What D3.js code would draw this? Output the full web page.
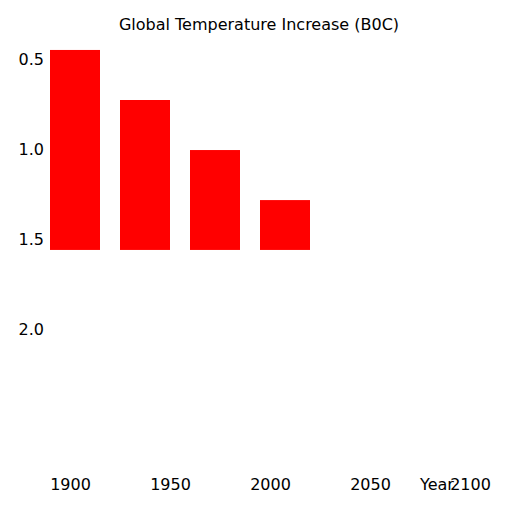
<!DOCTYPE html>
<html>
<head>
<meta charset="utf-8">
<script src="https://d3js.org/d3.v7.min.js"></script>
<style>
  html, body { margin: 0; padding: 0; background: #fff; }
  text { font-family: "DejaVu Sans", sans-serif; }
</style>
</head>
<body>
<script>
// Data
const categories = ["1900", "1950", "2000", "2050"];
const values = [0.447, 0.725, 1.003, 1.281];
const baselineValue = 1.558;
const yTicks = [0.5, 1.0, 1.5, 2.0];
const xTicks = [1900, 1950, 2000, 2050, 2100];
const titleText = "Global Temperature Increase (B0C)";
const xLabel = "Year";

const W = 512, H = 512;
const FS = 16;
const svg = d3.select("body").append("svg")
  .attr("width", W).attr("height", H);

const y = d3.scaleLinear().domain([0.5, 2.0]).range([59.5, 329.5]);
const xBand = d3.scaleBand().domain(categories).range([50, 310])
  .paddingInner(2 / 7).paddingOuter(0);
const xLin = d3.scaleLinear().domain([1900, 2100]).range([70, 470]);

// Bars
svg.append("g").selectAll("rect")
  .data(values)
  .join("rect")
  .attr("x", (d, i) => xBand(categories[i]))
  .attr("width", xBand.bandwidth())
  .attr("y", d => y(d))
  .attr("height", d => y(baselineValue) - y(d))
  .attr("fill", "#ff0000");

// Y axis (labels only)
const yAxis = svg.append("g")
  .attr("transform", "translate(50,0)")
  .call(d3.axisLeft(y).tickValues(yTicks).tickFormat(d3.format(".1f")).tickSize(0).tickPadding(6));
yAxis.select(".domain").remove();
yAxis.selectAll("text").attr("font-size", FS).attr("font-family", "DejaVu Sans").attr("fill", "#000");

// X axis (labels only)
const xAxis = svg.append("g")
  .call(d3.axisBottom(xLin).tickValues(xTicks).tickFormat(d3.format("d")).tickSize(0).tickPadding(0));
xAxis.select(".domain").remove();
xAxis.selectAll("text").attr("font-size", FS).attr("font-family", "DejaVu Sans").attr("fill", "#000")
  .attr("y", 490).attr("dy", 0);

// X label
svg.append("text")
  .attr("x", 420).attr("y", 490)
  .attr("font-size", FS)
  .attr("fill", "#000")
  .text(xLabel);

// Title
svg.append("text")
  .attr("x", 259).attr("y", 30)
  .attr("text-anchor", "middle")
  .attr("font-size", FS)
  .attr("fill", "#000")
  .text(titleText);
</script>
</body>
</html>
